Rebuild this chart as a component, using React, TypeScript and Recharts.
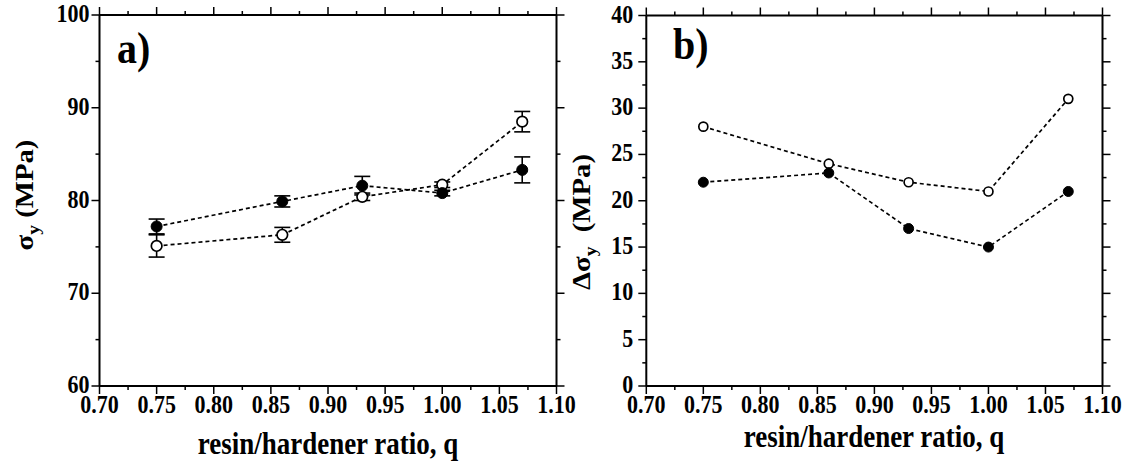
import React from "react";
import { LineChart, Line, XAxis, YAxis, ErrorBar } from "recharts";

// resin/hardener ratio
const qValues = [0.75, 0.86, 0.93, 1.0, 1.07];

// panel a) yield stress, MPa
const sigmaFilled = [77.2, 79.9, 81.6, 80.8, 83.3];
const sigmaFilledErr = [0.8, 0.6, 1.0, 0.3, 1.4];
const sigmaOpen = [75.1, 76.3, 80.4, 81.7, 88.5];
const sigmaOpenErr = [1.2, 0.8, 0.4, 0.3, 1.1];

// panel b) yield stress drop, MPa
const deltaFilled = [22, 23, 17, 15, 21];
const deltaOpen = [28, 24, 22, 21, 31];

const xMajorTicks = [0.7, 0.75, 0.8, 0.85, 0.9, 0.95, 1.0, 1.05, 1.1];
const xMinorTicks = [0.725, 0.775, 0.825, 0.875, 0.925, 0.975, 1.025, 1.075];
const sigmaMajorTicks = [60, 70, 80, 90, 100];
const sigmaMinorTicks = [65, 75, 85, 95];
const deltaMajorTicks = [0, 5, 10, 15, 20, 25, 30, 35, 40];
const deltaMinorTicks = [2.5, 7.5, 12.5, 17.5, 22.5, 27.5, 32.5, 37.5];

const FONT = "'Liberation Serif', 'Times New Roman', serif";
const STRETCH = 1.17;
const INK = "#000";
const textStyle = (size: number) => ({ fontFamily: FONT, fontSize: size, fontWeight: 700, fill: INK });

const sortNum = (a: number[]) => [...a].sort((p, q) => p - q);
const isMajor = (v: number, majors: number[]) => majors.some((m) => Math.abs(m - v) < 1e-9);

// ticks drawn by hand so majors/minors get different lengths and only majors get labels
function tickRenderer(side: "bottom" | "top" | "left" | "right", majors: number[], decimals: number, gap: number) {
  return (p: any) => {
    const v = p.payload.value as number;
    const major = isMajor(v, majors);
    const len = major ? 8 : 4;
    if (side === "bottom" || side === "top") {
      const dir = side === "bottom" ? 1 : -1;
      return (
        <g>
          <line x1={p.x} x2={p.x} y1={p.y} y2={p.y + dir * len} stroke={INK} strokeWidth={1.5} />
          {side === "bottom" && major && (
            <g transform={`translate(${p.x},${p.y + 27}) scale(1,${STRETCH})`}>
              <text x={0} y={0} textAnchor="middle" style={textStyle(22)}>
                {v.toFixed(decimals)}
              </text>
            </g>
          )}
        </g>
      );
    }
    const dir = side === "left" ? -1 : 1;
    return (
      <g>
        <line x1={p.x} x2={p.x + dir * len} y1={p.y} y2={p.y} stroke={INK} strokeWidth={1.5} />
        {side === "left" && major && (
          <g transform={`translate(${p.x - gap},${p.y + 7}) scale(1,${STRETCH})`}>
            <text x={0} y={0} textAnchor="end" style={textStyle(22)}>
              {v.toFixed(decimals)}
            </text>
          </g>
        )}
      </g>
    );
  };
}

interface PanelProps {
  left: number;
  width: number;
  margin: { top: number; right: number; bottom: number; left: number };
  filled: number[];
  filledErr?: number[];
  open: number[];
  openErr?: number[];
  yDomain: [number, number];
  yMajor: number[];
  yMinor: number[];
  labelGap: number;
  rFilled: number;
  rOpen: number;
}

function Panel(props: PanelProps) {
  const rows = qValues.map((q, i) => ({
    q,
    filled: props.filled[i],
    filledErr: props.filledErr ? props.filledErr[i] : 0,
    open: props.open[i],
    openErr: props.openErr ? props.openErr[i] : 0,
  }));
  const xTicks = sortNum([...xMajorTicks, ...xMinorTicks]);
  const yTicks = sortNum([...props.yMajor, ...props.yMinor]);
  const axisLine = { stroke: INK, strokeWidth: 2 };

  return (
    <div style={{ position: "absolute", left: props.left, top: 0 }}>
      <LineChart width={props.width} height={463} data={rows} margin={props.margin}>
        <XAxis
          dataKey="q"
          type="number"
          domain={[0.7, 1.1]}
          ticks={xTicks}
          interval={0}
          allowDataOverflow
          axisLine={axisLine}
          tickLine={false}
          tickSize={0}
          tickMargin={0}
          height={30}
          tick={tickRenderer("bottom", xMajorTicks, 2, 0)}
        />
        <XAxis
          xAxisId="top"
          dataKey="q"
          orientation="top"
          type="number"
          domain={[0.7, 1.1]}
          ticks={xTicks}
          interval={0}
          allowDataOverflow
          axisLine={axisLine}
          tickLine={false}
          tickSize={0}
          tickMargin={0}
          height={10}
          tick={tickRenderer("top", xMajorTicks, 2, 0)}
        />
        <YAxis
          type="number"
          domain={props.yDomain}
          ticks={yTicks}
          interval={0}
          allowDataOverflow
          axisLine={axisLine}
          tickLine={false}
          tickSize={0}
          tickMargin={0}
          width={60}
          tick={tickRenderer("left", props.yMajor, 0, props.labelGap)}
        />
        <YAxis
          yAxisId="right"
          orientation="right"
          type="number"
          domain={props.yDomain}
          ticks={yTicks}
          interval={0}
          allowDataOverflow
          axisLine={axisLine}
          tickLine={false}
          tickSize={0}
          tickMargin={0}
          width={10}
          tick={tickRenderer("right", props.yMajor, 0, 0)}
        />
        <Line
          dataKey="open"
          stroke={INK}
          strokeWidth={1.7}
          strokeDasharray="4 3"
          dot={{ r: props.rOpen, fill: "#fff", stroke: INK, strokeWidth: 1.7, strokeDasharray: "" }}
          activeDot={false}
          isAnimationActive={false}
        >
          {props.openErr && (
            <ErrorBar dataKey="openErr" direction="y" width={8} stroke={INK} strokeWidth={1.6} isAnimationActive={false} />
          )}
        </Line>
        <Line
          dataKey="filled"
          stroke={INK}
          strokeWidth={1.7}
          strokeDasharray="4 3"
          dot={{ r: props.rFilled, fill: INK, stroke: INK, strokeWidth: 1, strokeDasharray: "" }}
          activeDot={false}
          isAnimationActive={false}
        >
          {props.filledErr && (
            <ErrorBar dataKey="filledErr" direction="y" width={8} stroke={INK} strokeWidth={1.6} isAnimationActive={false} />
          )}
        </Line>
      </LineChart>
    </div>
  );
}

function Stretched({ x, y, size, anchor = "start", sy = STRETCH, children }: any) {
  return (
    <g transform={`translate(${x},${y}) scale(1,${sy})`}>
      <text x={0} y={0} textAnchor={anchor} style={textStyle(size)}>
        {children}
      </text>
    </g>
  );
}

function YTitle({ x, y, delta }: { x: number; y: number; delta?: boolean }) {
  return (
    <g transform={`translate(${x},${y}) rotate(-90) scale(1.15,1)`}>
      <text x={0} y={0} textAnchor="middle" style={textStyle(25)}>
        {delta ? "Δσ" : "σ"}
        <tspan style={{ fontSize: 17 }} dy={6}>y</tspan>
        <tspan dy={-6}>{delta ? "\u00a0\u00a0(MPa)" : "\u00a0(MPa)"}</tspan>
      </text>
    </g>
  );
}

export default function App() {
  return (
    <div style={{ position: "absolute", left: 0, top: 0, width: 1129, height: 463, background: "#fff", overflow: "hidden", fontFamily: FONT }}>
      <Panel
        left={0}
        width={580}
        margin={{ top: 5, right: 13.5, bottom: 47, left: 39.5 }}
        filled={sigmaFilled}
        filledErr={sigmaFilledErr}
        open={sigmaOpen}
        openErr={sigmaOpenErr}
        yDomain={[60, 100]}
        yMajor={sigmaMajorTicks}
        yMinor={sigmaMinorTicks}
        labelGap={10}
        rFilled={5.5}
        rOpen={5.3}
      />
      <Panel
        left={550}
        width={579}
        margin={{ top: 5.5, right: 16.5, bottom: 47, left: 36.3 }}
        filled={deltaFilled}
        open={deltaOpen}
        yDomain={[0, 40]}
        yMajor={deltaMajorTicks}
        yMinor={deltaMinorTicks}
        labelGap={13}
        rFilled={5}
        rOpen={4.5}
      />
      <svg width={1129} height={463} style={{ position: "absolute", left: 0, top: 0, pointerEvents: "none" }}>
        <Stretched x={117} y={63} size={40} sy={1.12}>a)</Stretched>
        <Stretched x={673} y={59} size={40} sy={1.12}>b)</Stretched>
        <Stretched x={328} y={454} size={27} anchor="middle">resin/hardener ratio, q</Stretched>
        <Stretched x={874} y={447} size={27} anchor="middle">resin/hardener ratio, q</Stretched>
        <YTitle x={33} y={195} />
        <YTitle x={590} y={222} delta />
      </svg>
    </div>
  );
}
